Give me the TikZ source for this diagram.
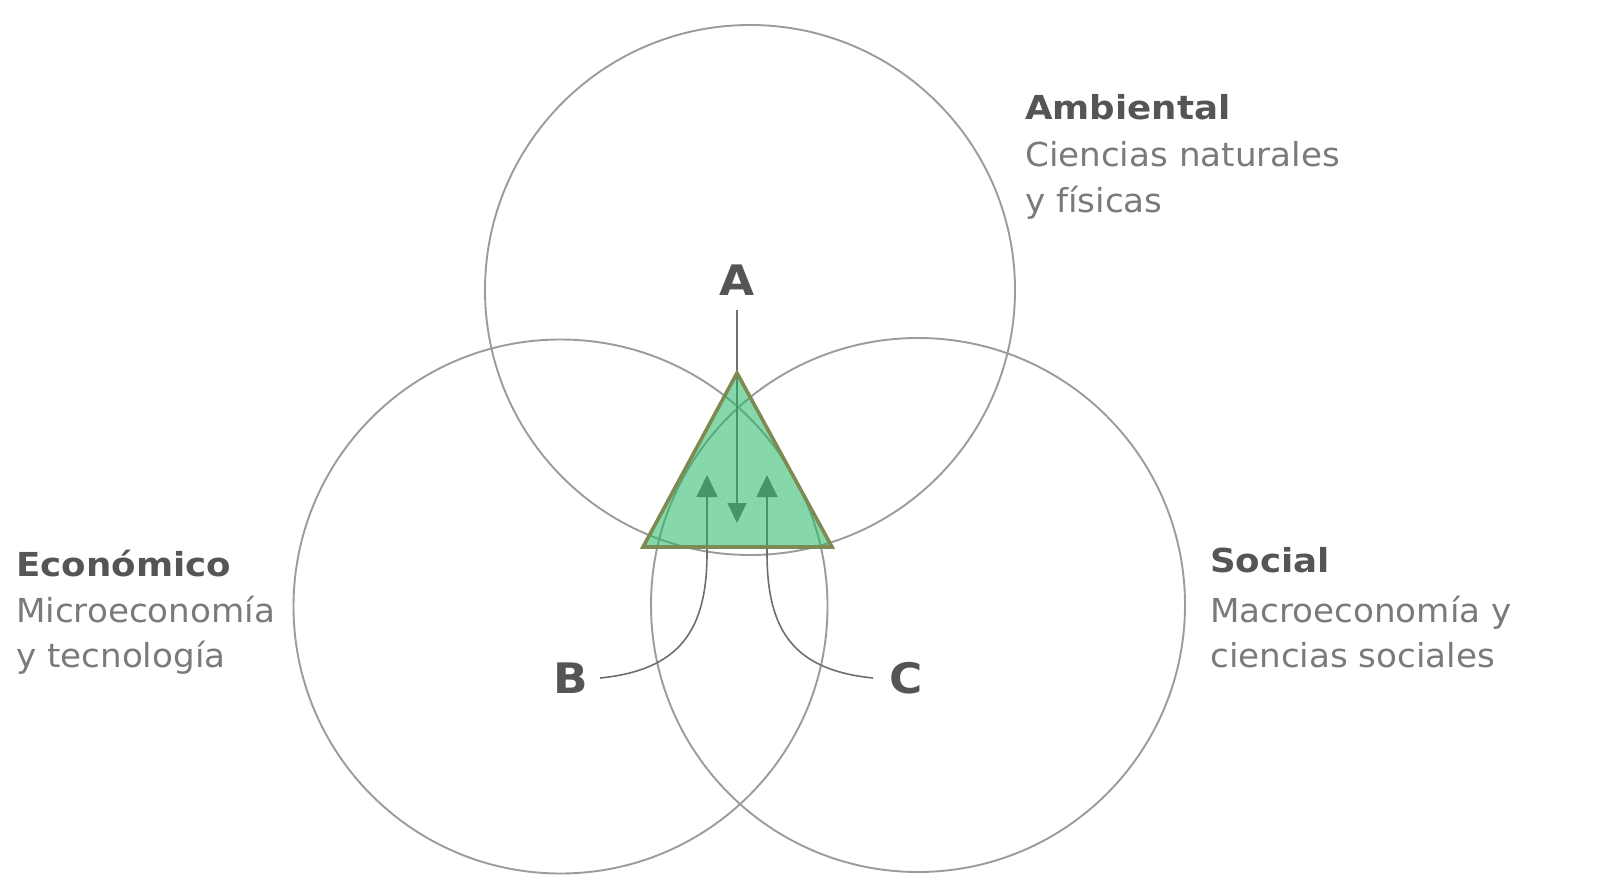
\documentclass[tikz,border=0pt]{standalone}
\usepackage{fontspec}
\setmainfont{DejaVu Sans}[FakeStretch=1.035, BoldFeatures={FakeStretch=1.08}]
\usetikzlibrary{arrows.meta}
\definecolor{circ}{RGB}{155,155,155}
\definecolor{conn}{RGB}{110,110,110}
\definecolor{head}{RGB}{85,85,85}
\definecolor{body}{RGB}{122,122,122}
\definecolor{trifill}{RGB}{35,184,100}
\definecolor{triedge}{RGB}{125,138,82}
\tikzset{
  circ/.style={draw=circ, line width=1.9pt},
  conn/.style={draw=conn, line width=1.6pt},
  headtxt/.style={anchor=base west, inner sep=0pt, text=head, font=\fontsize{33}{40}\selectfont\bfseries},
  bodytxt/.style={anchor=base west, inner sep=0pt, text=body, font=\fontsize{33}{40}\selectfont},
  lbl/.style={inner sep=0pt, text=head, font=\fontsize{42}{50}\selectfont\bfseries},
  uptip/.style={-{Triangle[width=21pt,length=22pt]}},
  dntip/.style={-{Triangle[width=19pt,length=20pt]}},
}
\begin{document}
\begin{tikzpicture}[x=1pt,y=-1pt]
\useasboundingbox (0,0) rectangle (1598,886);
% circles
\draw[circ] (750,290) circle (265);
\draw[circ] (560.5,606.5) circle (267);
\draw[circ] (918,605) circle (267);
% labels
\node[lbl] (A) at (737,280) {A};
\node[lbl] (B) at (571,678) {B};
\node[lbl] (C) at (906,678) {C};
\coordinate (Aend) at (737,523);
\coordinate (Bend) at (707,475);
\coordinate (Cend) at (767,475);
% connectors
\draw[conn, dntip] (737,310) -- (Aend);
\draw[conn, uptip] (600,678) .. controls (680,670) and (707,630) .. (707,553) -- (Bend);
\draw[conn, uptip] (873,678) .. controls (793,670) and (767,630) .. (767,553) -- (Cend);
% triangle
\draw[triedge, line width=3.6pt, line join=miter, fill=trifill, fill opacity=0.55]
  (737,373) -- (643,547) -- (832,547) -- cycle;
% texts
\node[headtxt] (amb1) at (1025,119) {Ambiental};
\node[bodytxt] (amb2) at (1025,166) {Ciencias naturales};
\node[bodytxt] (amb3) at (1025,212) {y físicas};
\node[headtxt] (eco1) at (16,576) {Económico};
\node[bodytxt] (eco2) at (16,622) {Microeconomía};
\node[bodytxt] (eco3) at (16,667) {y tecnología};
\node[headtxt] (soc1) at (1210,572) {Social};
\node[bodytxt] (soc2) at (1210,622) {Macroeconomía y};
\node[bodytxt] (soc3) at (1210,667) {ciencias sociales};
\end{tikzpicture}
\end{document}
